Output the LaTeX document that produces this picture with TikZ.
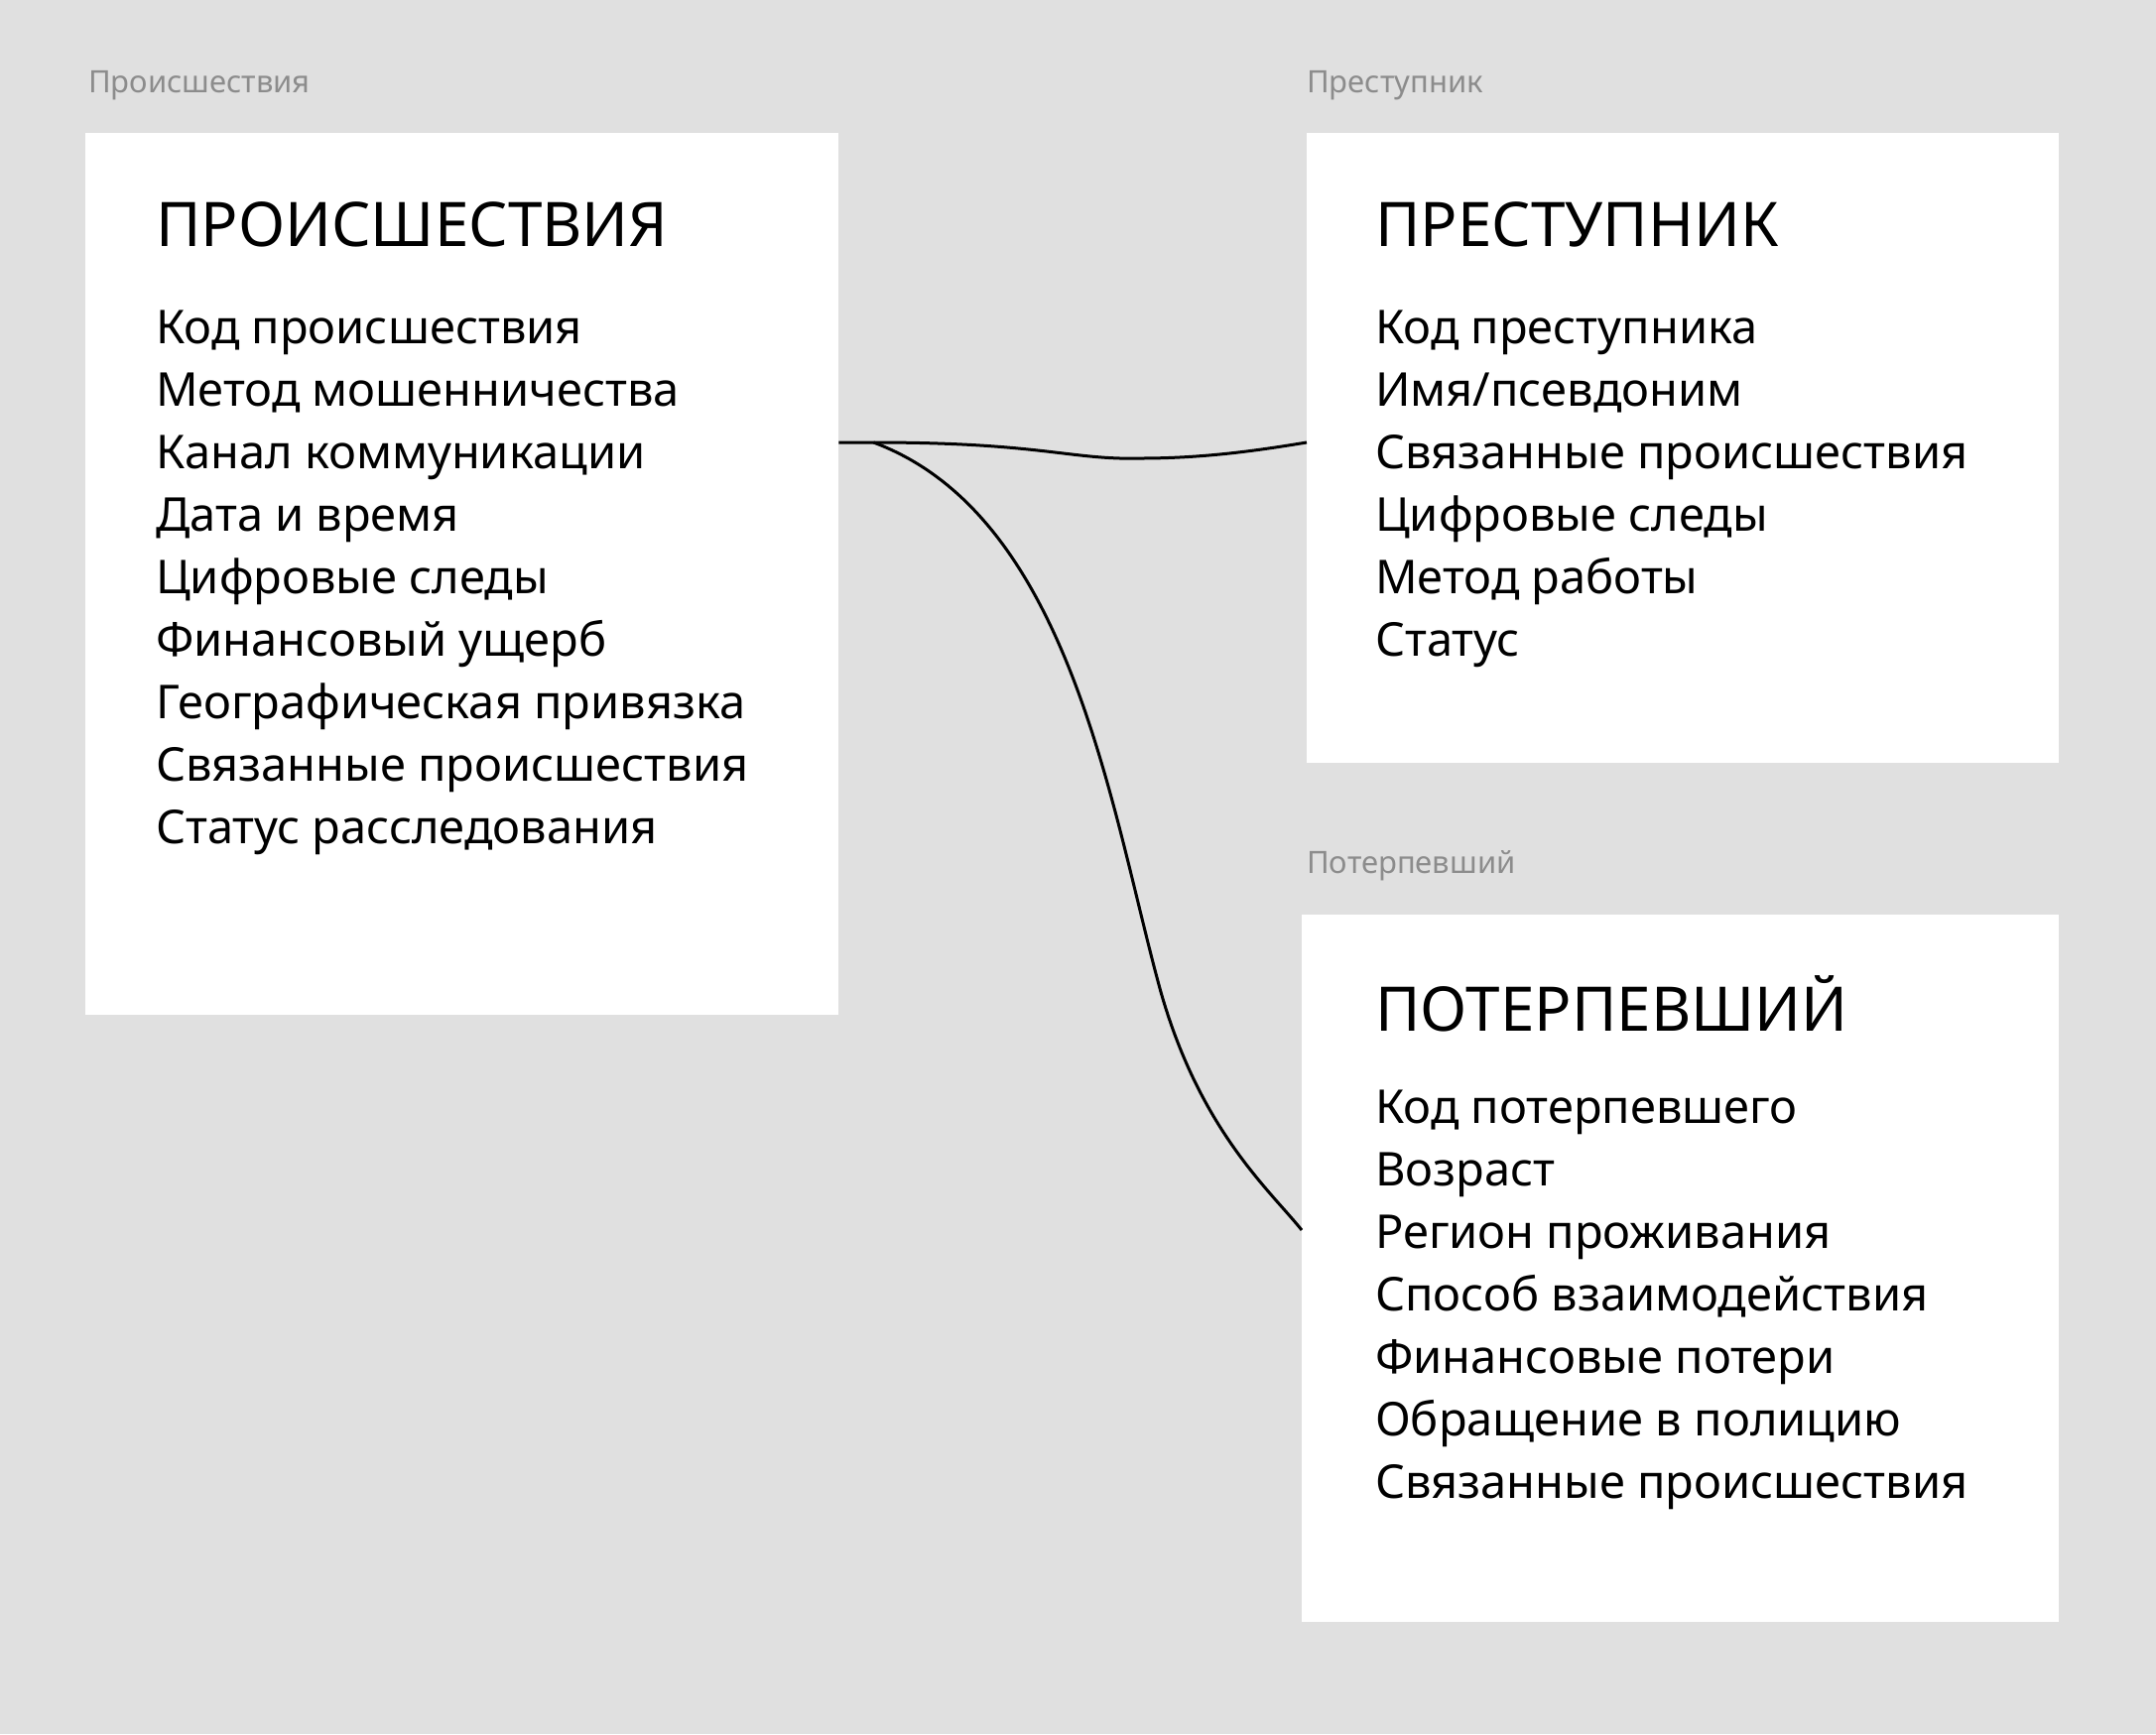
\documentclass[tikz,border=0pt]{standalone}
\usepackage{fontspec}
\setmainfont{Noto Sans}
\begin{document}
\begin{tikzpicture}[x=1pt,y=-1pt,
  card/.style={fill=white,draw=none,inner sep=0pt,anchor=north west},
  lbl/.style={anchor=west,inner sep=0pt,text=black!45,font=\fontsize{31}{36}\selectfont},
  ttl/.style={anchor=west,inner sep=0pt,font=\fontsize{62}{70}\bfseries},
  body/.style={anchor=north west,inner sep=0pt,align=left,font=\fontsize{47}{63}\selectfont},
  conn/.style={line width=3pt,black}]
\fill[black!12] (0,0) rectangle (2173,1748);
\useasboundingbox (0,0) rectangle (2173,1748);
\node[card,minimum width=759pt,minimum height=889pt] (b1) at (86,134) {};
\node[card,minimum width=758pt,minimum height=635pt] (b2) at (1317,134) {};
\node[card,minimum width=763pt,minimum height=713pt] (b3) at (1312,922) {};
\node[lbl] (l1) at (89,86) {Происшествия};
\node[lbl] (l2) at (1317,86) {Преступник};
\node[lbl] (l3) at (1317,873) {Потерпевший};
\node[ttl] (t1) at (157,226) {ПРОИСШЕСТВИЯ};
\node[ttl] (t2) at (1386,226) {ПРЕСТУПНИК};
\node[ttl] (t3) at (1386,1012) {ПОТЕРПЕВШИЙ};
\node[body] (x1) at (157,313) {Код происшествия\\Метод мошенничества\\Канал коммуникации\\Дата и время\\Цифровые следы\\Финансовый ущерб\\Географическая привязка\\Связанные происшествия\\Статус расследования};
\node[body] (x2) at (1386,313) {Код преступника\\Имя/псевдоним\\Связанные происшествия\\Цифровые следы\\Метод работы\\Статус};
\node[body] (x3) at (1386,1099) {Код потерпевшего\\Возраст\\Регион проживания\\Способ взаимодействия\\Финансовые потери\\Обращение в полицию\\Связанные происшествия};
\coordinate (s) at (b1.north east |- 0,446);
\coordinate (e2) at (b2.north west |- 0,446);
\coordinate (e3) at (b3.north west |- 0,1240);
\draw[conn] (s) -- ++(35,0) .. controls (1050,446) and (1080,464) .. (1150,462) .. controls (1220,462) and (1280,452) .. (e2);
\draw[conn] ([xshift=35pt]s) .. controls (1080,520) and (1120,820) .. (1170,1000) .. controls (1210,1140) and (1280,1200) .. (e3);
\end{tikzpicture}
\end{document}
